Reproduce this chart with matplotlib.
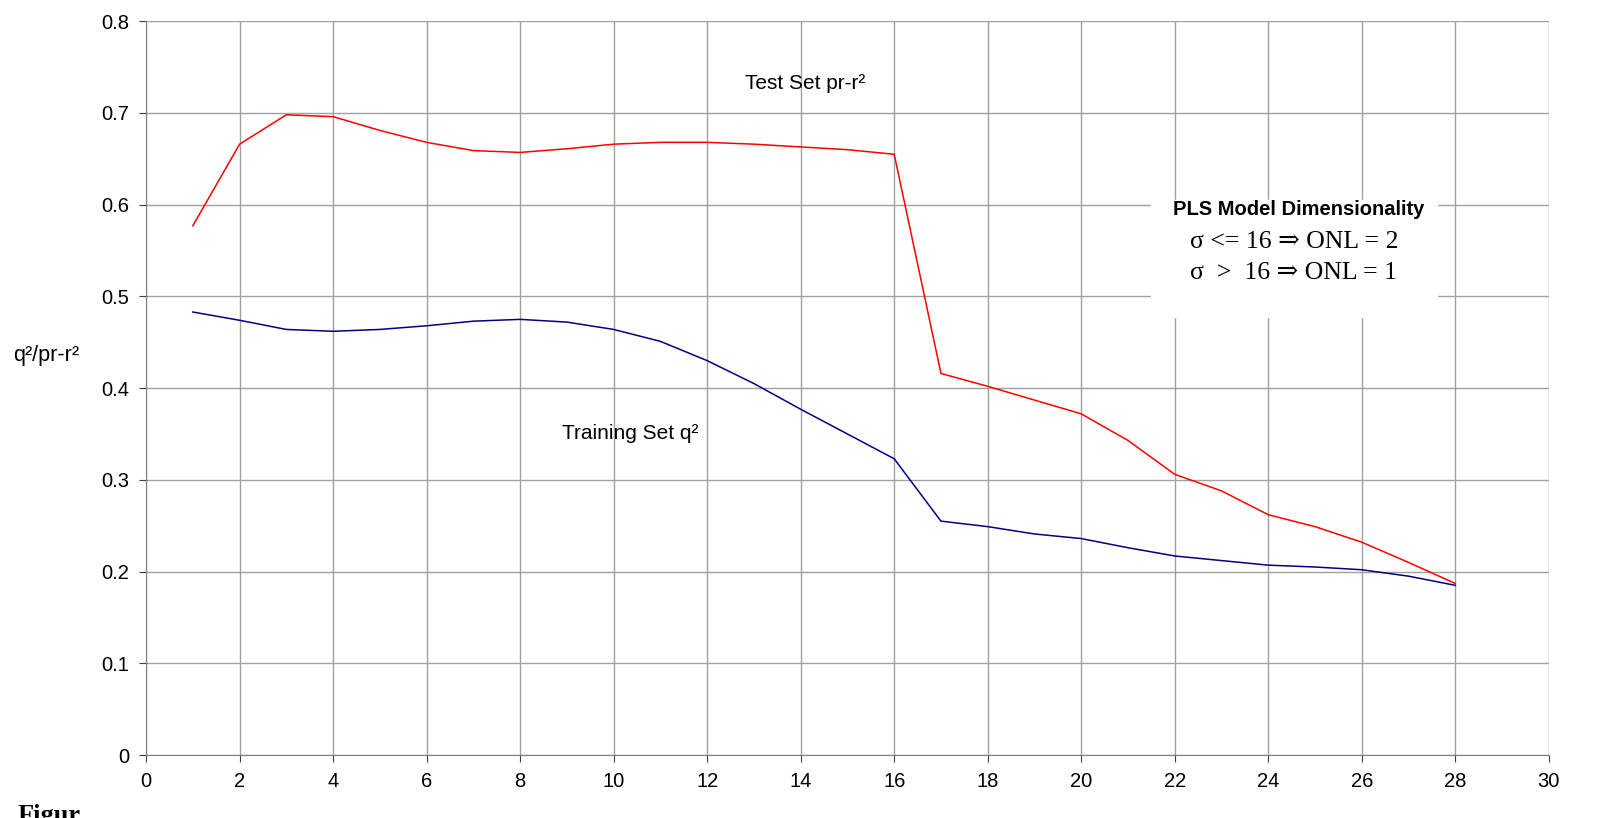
import matplotlib
matplotlib.use("Agg")
import matplotlib.pyplot as plt

# Gaussian width sigma vs. cross-validated / predictive r2
sigma = list(range(1, 29))
test_pr_r2 = [0.577, 0.666, 0.698, 0.696, 0.681, 0.668, 0.659, 0.657, 0.661, 0.666,
              0.668, 0.668, 0.666, 0.663, 0.660, 0.655, 0.416, 0.402, 0.387, 0.372,
              0.343, 0.306, 0.288, 0.262, 0.249, 0.232, 0.210, 0.187]
train_q2 = [0.483, 0.474, 0.464, 0.462, 0.464, 0.468, 0.473, 0.475, 0.472, 0.464,
            0.451, 0.430, 0.405, 0.377, 0.350, 0.323, 0.255, 0.249, 0.241, 0.236,
            0.226, 0.217, 0.212, 0.207, 0.205, 0.202, 0.195, 0.185]

xticks = list(range(0, 31, 2))
yticks = [0, 0.1, 0.2, 0.3, 0.4, 0.5, 0.6, 0.7, 0.8]

plt.rcParams['font.family'] = ['Liberation Sans', 'DejaVu Sans']

fig = plt.figure(figsize=(16.05, 8.18), dpi=100)
ax = fig.add_axes([0.091, 0.077, 0.874, 0.897])

ax.plot(sigma, test_pr_r2, color='#ff0000', lw=1.1)
ax.plot(sigma, train_q2, color='#000080', lw=1.1)

ax.set_xlim(0, 30)
ax.set_ylim(0, 0.8)
ax.set_xticks(xticks)
ax.set_yticks(yticks)
ax.set_yticklabels(['0', '0.1', '0.2', '0.3', '0.4', '0.5', '0.6', '0.7', '0.8'])
ax.grid(True, color='#a0a0a0', lw=1)
ax.set_axisbelow(True)
for s in ['top', 'right']:
    ax.spines[s].set_visible(False)
for s in ['left', 'bottom']:
    ax.spines[s].set_color('#808080')
ax.tick_params(axis='both', direction='out', length=5, color='#404040',
               labelsize=14.5, pad=7)

ax.text(14.1, 0.732, 'Test Set pr-r²', fontsize=15, ha='center', va='center')
ax.text(10.35, 0.351, 'Training Set q²', fontsize=15, ha='center', va='center')

# white box over the grid for the dimensionality note
ax.fill_between([21.5, 27.6], 0.478, 0.605, color='white', zorder=2)
ax.text(24.65, 0.595, 'PLS Model Dimensionality', fontsize=14.5, fontweight='bold',
        ha='center', va='center', zorder=3)
serif = ['Liberation Serif', 'DejaVu Serif']
ax.text(24.55, 0.559, 'σ <= 16 ⇒ ONL = 2', fontsize=18.5, family=serif,
        ha='center', va='center', zorder=3)
ax.text(24.55, 0.526, 'σ  >  16 ⇒ ONL = 1', fontsize=18.5, family=serif,
        ha='center', va='center', zorder=3)

fig.text(0.029, 1 - 355 / 818, 'q²/pr-r²', fontsize=15.5, ha='center', va='center')
# caption cut off by the bottom edge, as in the source page
fig.text(0.011, 1 - 804 / 818, 'Figur', fontsize=19, fontweight='bold',
         family=serif, ha='left', va='top')

fig.savefig('out.png', dpi=100)
